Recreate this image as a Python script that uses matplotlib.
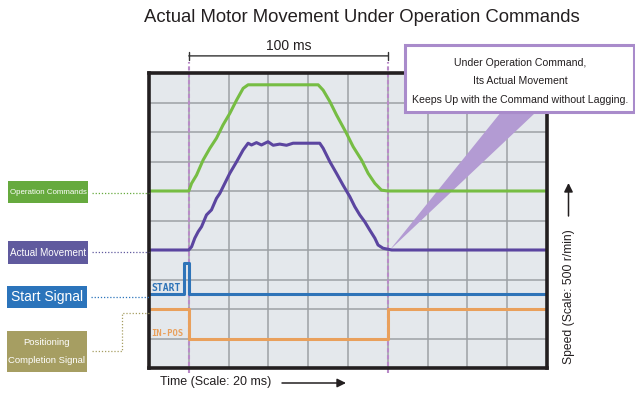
import matplotlib
matplotlib.use("Agg")
import matplotlib.pyplot as plt
from matplotlib.patches import Rectangle, Polygon
from matplotlib.lines import Line2D

plt.rcParams['font.family'] = ['Liberation Sans', 'DejaVu Sans']

# time in ms (one grid column = 20 ms), speed in grid rows
cmd_t = [-20, 0, 1.4, 3.9, 7.2, 10.6, 13.9, 17.2, 20.6, 24.0, 27.3, 29.8,
         65.0, 67.5, 70.9, 74.2, 79.2, 82.6, 86.8, 90.1, 93.5, 96.8, 100, 180]
cmd_v = [6.0, 6.0, 6.26, 6.54, 7.05, 7.45, 7.79, 8.24, 8.63, 9.08, 9.48, 9.6,
         9.6, 9.42, 9.03, 8.58, 7.96, 7.5, 7.05, 6.6, 6.26, 6.03, 6.0, 6.0]

act_t = [-20, 0, 1.4, 3.0, 4.7, 6.4, 8.9, 11.4, 13.9, 15.6, 18.1, 20.6, 24.0,
         27.3, 29.8, 31.5, 34.0, 36.5, 39.8, 42.4, 45.7, 49.1, 52.4, 65.8,
         67.5, 70.9, 74.2, 77.5, 80.9, 83.4, 85.9, 88.4, 90.9, 93.5, 95.1,
         97.6, 101.9, 180]
act_v = [4.0, 4.0, 4.11, 4.40, 4.62, 4.79, 5.19, 5.36, 5.75, 5.92, 6.26, 6.60,
         6.99, 7.39, 7.62, 7.56, 7.64, 7.56, 7.67, 7.55, 7.59, 7.55, 7.62,
         7.62, 7.45, 6.99, 6.60, 6.20, 5.81, 5.47, 5.19, 4.96, 4.68, 4.40,
         4.17, 4.06, 4.0, 4.0]

start_t = [-20, -2.4, 0, 180]
start_v = [2.5, 3.55, 2.5, 2.5]

inpos_t = [-20, 0, 100, 180]
inpos_v = [2.0, 1.0, 2.0, 2.0]

W, H = 635, 398


def px(x, y):
    return x / W, 1 - y / H


fig = plt.figure(figsize=(W / 100, H / 100), dpi=100)
renderer = fig.canvas.get_renderer()


def fit_group(texts, max_w):
    # one common font size so the widest text is no wider than max_w pixels
    widest = max(t.get_window_extent(renderer).width for t in texts)
    if widest > max_w:
        for t in texts:
            t.set_fontsize(t.get_fontsize() * max_w / widest)


ax = fig.add_axes([149 / W, 1 - 368 / H, 398 / W, 295 / H])
ax.set_facecolor('#e4e8ec')
ax.set_xlim(-20, 180)
ax.set_ylim(0, 10)
ax.set_xticks(range(-20, 181, 20))
ax.set_yticks(range(0, 11))
ax.tick_params(length=0, labelbottom=False, labelleft=False)
ax.set_axisbelow(True)
ax.grid(color='#9da1a5', lw=1.1)
for s in ax.spines.values():
    s.set_color('#231f20')
    s.set_linewidth(2.6)

# callout wedge sits under the traces
ax.add_patch(Polygon([(159.6, 8.9), (178.0, 8.9), (101, 4.0)], closed=True,
                     fc='#b39bd3', ec='none', zorder=1.5))

# command start / end markers
for t in (0, 100):
    ax.plot([t, t], [-0.17, 10.38], color='#b98bc8', lw=1.5, ls=(0, (2, 1.3)),
            clip_on=False, zorder=1.8)

lw = 2.2
ax.plot(cmd_t, cmd_v, color='#76bd43', lw=lw)
ax.plot(act_t, act_v, color='#5b45a0', lw=lw)
ax.plot(start_t, start_v, color='#2f74b8', lw=lw, drawstyle='steps-post')
ax.plot(inpos_t, inpos_v, color='#e9a05c', lw=lw, drawstyle='steps-post')

ax.text(-19, 2.72, 'START', color='#2f74b8', fontsize=7,
        family='DejaVu Sans Mono', weight='bold', ha='left', va='center')
ax.text(-19, 1.17, 'IN-POS', color='#e9a05c', fontsize=6.4,
        family='DejaVu Sans Mono', weight='bold', ha='left', va='center')

# 100 ms dimension
ax.annotate('', xy=(0, 10.58), xytext=(100, 10.58), annotation_clip=False,
            arrowprops=dict(arrowstyle='|-|, widthA=0.3, widthB=0.3',
                            lw=1, color='#333333', shrinkA=0, shrinkB=0))
ax.text(50, 10.9, '100 ms', ha='center', va='center', fontsize=10,
        color='#231f20', clip_on=False)

fig.text(*px(361.5, 17), 'Actual Motor Movement Under Operation Commands',
         ha='center', va='center', fontsize=13.3, color='#231f20')

# callout box
fig.add_artist(Rectangle(px(405, 111.5), 228.5 / W, 66.5 / H, fc='white',
                         ec='#a98bcb', lw=2.2, zorder=3))
callout = ['Under Operation Command,', 'Its Actual Movement',
           'Keeps Up with the Command without Lagging.']
fit_group([fig.text(*px(520, 62.7 + 18.7 * i), line, ha='center',
                    va='center', fontsize=9, color='#231f20', zorder=4)
           for i, line in enumerate(callout)], 218)


def label_box(x, y, w, h, color, lines, size, text_w):
    fig.add_artist(Rectangle(px(x, y + h), w / W, h / H, fc=color, ec='none'))
    n = len(lines)
    step = h / (n + 0.4)
    texts = []
    for i, line in enumerate(lines):
        cy = y + h / 2 + (i - (n - 1) / 2) * step
        texts.append(fig.text(*px(x + w / 2, cy), line, color='white',
                              ha='center', va='center', fontsize=size))
    fit_group(texts, text_w)


def connector(xs, ys, color):
    pts = [px(a, b) for a, b in zip(xs, ys)]
    fig.add_artist(Line2D([p[0] for p in pts], [p[1] for p in pts],
                          color=color, lw=0.9, ls=(0, (1, 1.5))))


label_box(8, 181, 80, 22, '#66aa3e', ['Operation Commands'], 9, 77)
connector([92, 149], [192.7, 192.7], '#66aa3e')
label_box(8, 241, 80, 23, '#605a9e', ['Actual Movement'], 9, 76)
connector([92, 149], [252, 252], '#605a9e')
label_box(7, 286, 80, 22, '#2b74bb', ['Start Signal'], 12, 72)
connector([91, 149], [297.3, 297.3], '#2b74bb')
label_box(7, 331, 80, 41, '#a69e62', ['Positioning', 'Completion Signal'], 9, 77)
connector([91.7, 121.7, 121.7, 149], [351, 351, 313.3, 313.3], '#a69e62')

# axis captions
fig.text(*px(160, 382), 'Time (Scale: 20 ms)', ha='left', va='center',
         fontsize=9, color='#231f20')
ax.annotate('', xy=px(346, 383), xytext=px(282, 383),
            xycoords='figure fraction', textcoords='figure fraction',
            arrowprops=dict(arrowstyle='-|>', lw=1.1, color='#231f20',
                            mutation_scale=13, shrinkA=0, shrinkB=0))
fig.text(*px(569, 297), 'Speed (Scale: 500 r/min)', rotation=90,
         ha='center', va='center', fontsize=8.7, color='#231f20')
ax.annotate('', xy=px(568.5, 183), xytext=px(568.5, 216),
            xycoords='figure fraction', textcoords='figure fraction',
            arrowprops=dict(arrowstyle='-|>', lw=1.1, color='#231f20',
                            mutation_scale=13, shrinkA=0, shrinkB=0))

fig.savefig('out.png', dpi=100)
